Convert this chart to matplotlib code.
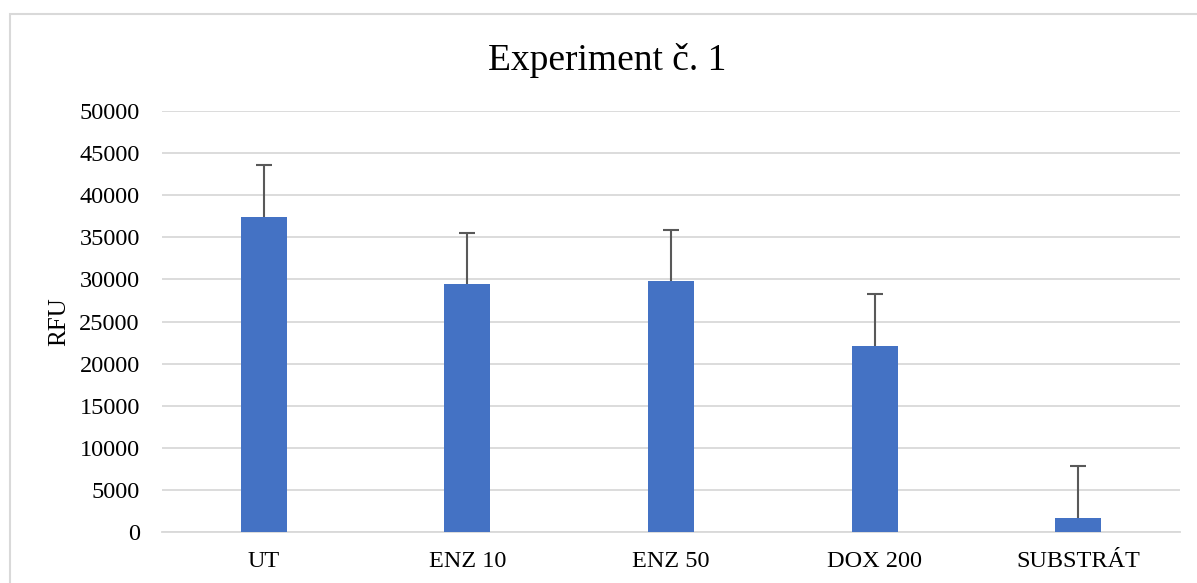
import matplotlib.pyplot as plt
import matplotlib.patches as mpatches

# data
categories = ['UT', 'ENZ 10', 'ENZ 50', 'DOX 200', 'SUBSTRÁT']
rfu = [37450, 29500, 29780, 22100, 1680]
err = [6100, 6060, 6130, 6140, 6200]

plt.rcParams['font.family'] = ['Liberation Serif', 'DejaVu Serif']

fig = plt.figure(figsize=(11.97, 5.83), dpi=100)
W, H = 1197, 583
ax = fig.add_axes([162 / W, 1 - 532 / H, (1180 - 162) / W, (532 - 111) / H])

# chart frame (cut off on right and bottom)
fig.patches.append(mpatches.Rectangle((10 / W, -0.1), 1.2, 1 - 14 / H + 0.1,
                                      transform=fig.transFigure, fill=False,
                                      edgecolor='#d9d9d9', linewidth=1.5))

x = range(len(categories))
ax.bar(x, rfu, width=0.226, color='#4472C4', zorder=3)
eb = ax.errorbar(x, rfu, yerr=[[0] * len(err), err], fmt='none', ecolor='#595959',
                 elinewidth=1.5, capsize=6, capthick=1.5, zorder=4)
# only the upper cap is shown
eb[1][0].set_visible(False)

ax.set_xlim(-0.5, len(categories) - 0.5)
ax.set_ylim(0, 50000)
ax.set_yticks(range(0, 50001, 5000))
ax.set_xticks(list(x))
ax.set_xticklabels(categories)
ax.tick_params(axis='both', length=0, labelsize=17.5)
ax.tick_params(axis='y', pad=16)
ax.tick_params(axis='x', pad=14)
ax.grid(axis='y', color='#d9d9d9', linewidth=1.3, zorder=0)
for s in ['top', 'right', 'left']:
    ax.spines[s].set_visible(False)
ax.spines['bottom'].set_color('#d9d9d9')
ax.spines['bottom'].set_linewidth(1.3)

ax.set_ylabel('RFU', fontsize=18)
ax.yaxis.set_label_coords((70 - 162) / (1180 - 162), 0.5)
fig.text(607 / W, 1 - 70 / H, 'Experiment č. 1', ha='center', va='baseline', fontsize=27)

fig.savefig('out.png', dpi=100)
